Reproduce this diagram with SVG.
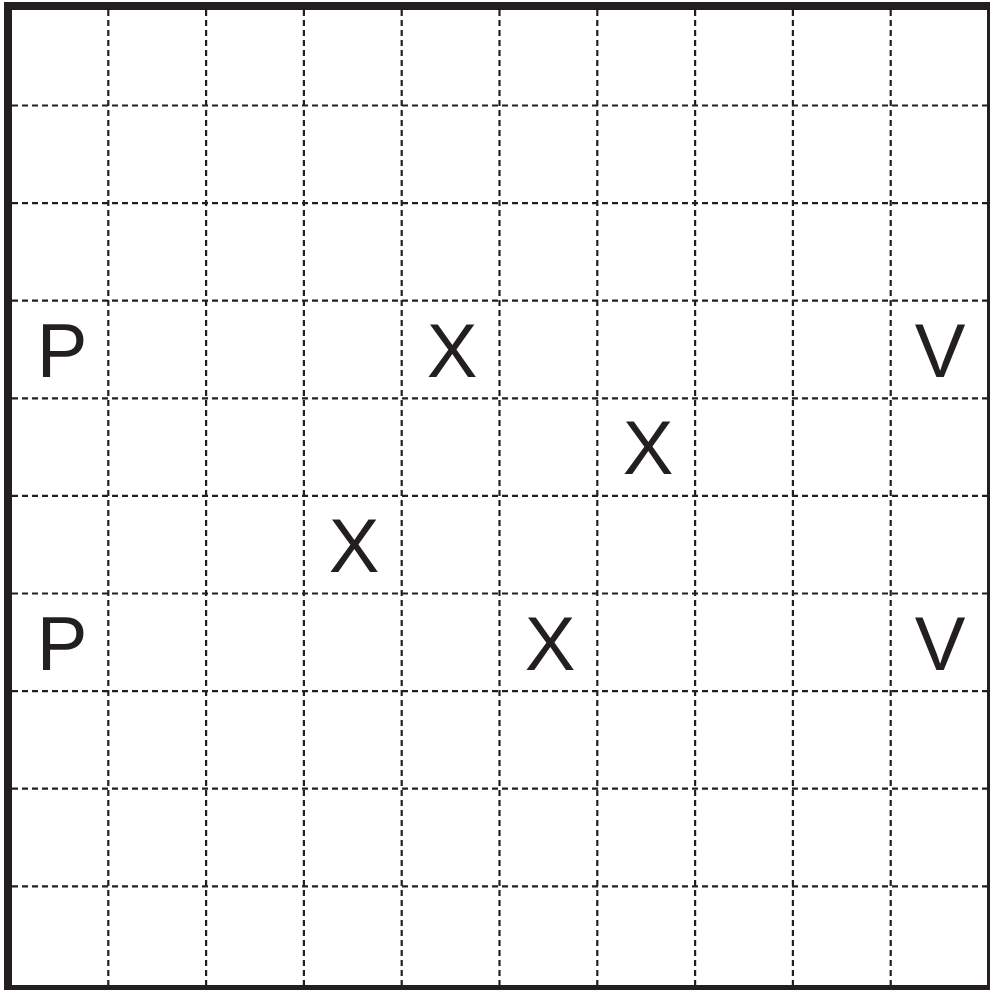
<svg xmlns="http://www.w3.org/2000/svg" width="990" height="990" viewBox="0 0 990 990">
<style>
.g{stroke:#231f20;stroke-width:2.2;stroke-dasharray:6 4;fill:none}
.t{font-family:"Liberation Sans",Arial,sans-serif;font-size:76px;fill:#231f20;text-anchor:middle}
</style>
<rect width="990" height="990" fill="#fff"/>
<g id="grid">
<path class="g" d="M12 105.5H988M12 203.1H988M12 300.7H988M12 398.3H988M12 495.9H988M12 593.5H988M12 691.1H988M12 788.7H988M12 886.3H988"/>
<path class="g" d="M108.3 10V986M206.1 10V986M303.9 10V986M401.7 10V986M499.5 10V986M597.3 10V986M695.1 10V986M792.9 10V986M890.7 10V986"/>
</g>
<rect id="border" x="8" y="6" width="983" height="983" fill="none" stroke="#231f20" stroke-width="8"/>
<g id="labels">
<text class="t" x="62" y="377">P</text>
<text class="t" x="62" y="670">P</text>
<text class="t" x="452" y="377">X</text>
<text class="t" x="648" y="474">X</text>
<text class="t" x="354" y="572">X</text>
<text class="t" x="550" y="670">X</text>
<text class="t" x="940" y="377">V</text>
<text class="t" x="940" y="670">V</text>
</g>
</svg>
